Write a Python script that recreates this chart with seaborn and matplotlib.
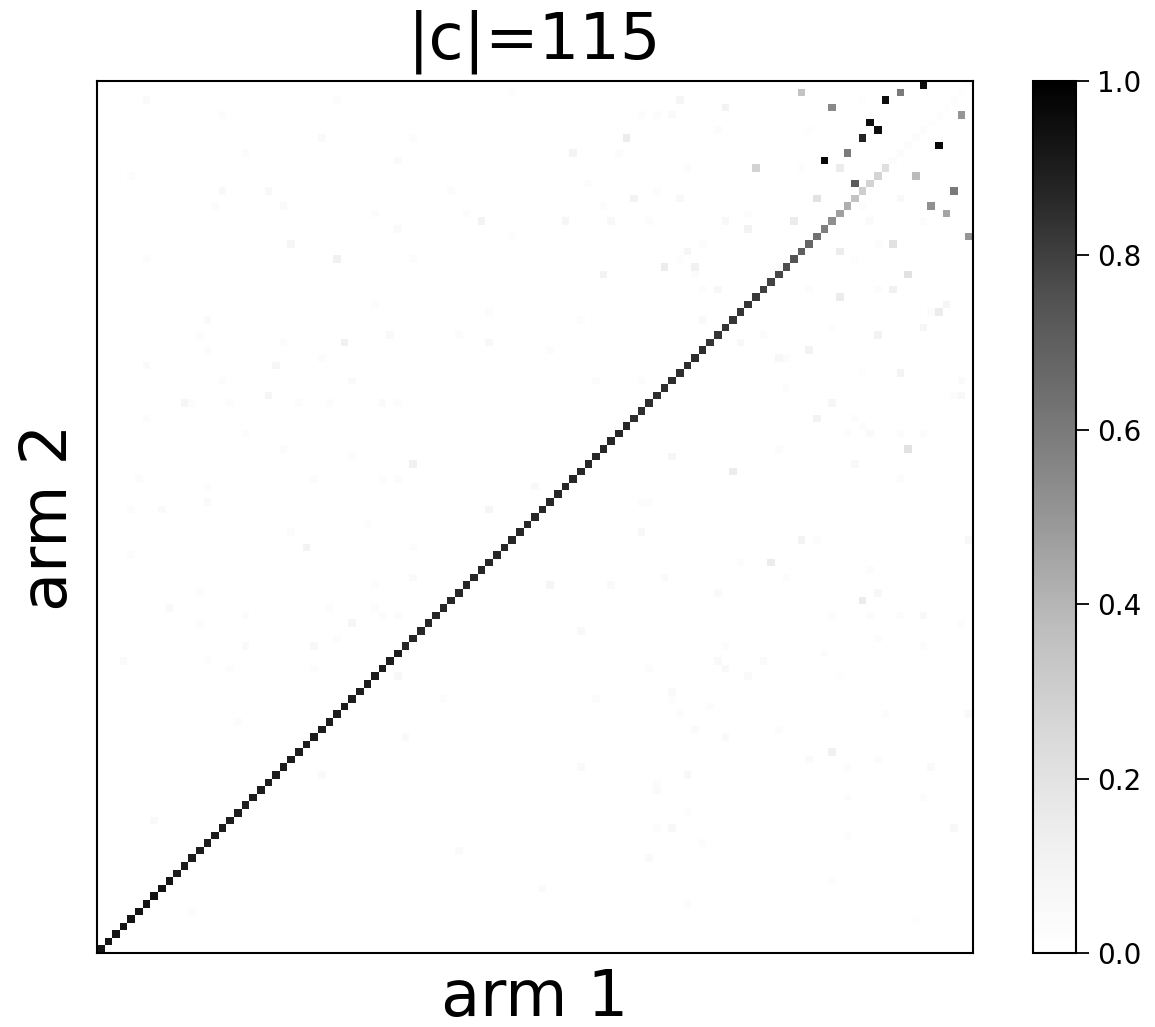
import numpy as np
import pandas as pd
import matplotlib
matplotlib.use("Agg")
import matplotlib.pyplot as plt
import seaborn as sns

N = 115
title_text = "|c|=115"
x_label = "arm 1"
y_label = "arm 2"
cbar_ticks = [0.0, 0.2, 0.4, 0.6, 0.8, 1.0]

# diagonal values (index 0 = bottom-left)
diag_vals = [
    0.93, 0.93, 0.93, 0.93, 0.93, 0.93, 0.93, 0.93, 0.93, 0.93,
    0.90, 0.90, 0.90, 0.90, 0.90, 0.90, 0.90, 0.90, 0.90, 0.90,
    0.90, 0.90, 0.90, 0.90, 0.90, 0.90, 0.90, 0.90, 0.90, 0.90,
    0.90, 0.90, 0.90, 0.90, 0.90, 0.90, 0.90, 0.90, 0.90, 0.90,
    0.87, 0.87, 0.87, 0.87, 0.87, 0.87, 0.87, 0.87, 0.87, 0.87,
    0.87, 0.87, 0.87, 0.87, 0.87, 0.87, 0.87, 0.87, 0.87, 0.87,
    0.87, 0.87, 0.87, 0.87, 0.87, 0.87, 0.87, 0.87, 0.87, 0.87,
    0.85, 0.85, 0.85, 0.85, 0.85, 0.85, 0.85, 0.85, 0.85, 0.85,
    0.83, 0.83, 0.83, 0.83, 0.83, 0.83, 0.82, 0.80, 0.79, 0.78,
    0.76, 0.74, 0.70, 0.67, 0.63, 0.58, 0.53, 0.47, 0.42, 0.35,
    0.30, 0.28, 0.27, 0.22, 0.03, 0.03, 0.03, 0.03, 0.03, 0.02,
    0.02, 0.02, 0.02, 0.02, 0.02,
]

# off-diagonal cells: row (arm 2, from bottom), column (arm 1, from left), value
off_rows = [
    113, 111, 112, 113, 114, 110, 109, 108, 107, 105, 104, 106, 103, 103, 102, 101, 100, 99, 98, 97,
    94, 96, 93, 95, 92, 96, 99, 112, 108, 103, 97, 93,
    98, 96, 96, 96, 93, 92, 91, 90, 90, 89, 90, 91, 89, 87, 87, 87, 87, 87, 86, 85, 84, 84, 83, 81,
    82, 81, 82, 80, 79, 78, 78, 76, 76, 75, 73, 73, 75, 74,
    72, 70, 70, 69, 68, 68, 68, 68, 66, 66, 65, 64, 63, 62, 59, 59, 55, 54, 54, 54, 51, 51, 49, 49,
    50, 47, 47, 46, 44, 44, 44, 44, 43, 41, 40, 40, 39, 38, 37, 38, 36, 37, 36,
    34, 33, 31, 32, 29, 28, 29, 31, 31, 26, 25, 24, 25, 24, 23, 22, 21, 20, 20, 18, 16, 16, 16, 15,
    14, 12, 9, 6, 4,
    112, 112, 110, 107, 107, 105, 104, 102, 100, 100, 98, 98, 97, 95, 93, 91, 91, 91, 85, 83, 81, 81,
    80, 80, 79, 78, 77, 77, 75, 75,
    113, 112, 111, 110, 110, 110, 108, 107, 105, 105, 103, 101, 100, 99, 100, 99, 98, 97, 96, 96,
    96, 96, 96, 94, 89, 84, 83, 81, 80, 79, 75,
    73, 72, 72, 72, 72, 72, 72, 72, 70, 68, 66, 65, 64, 62, 61, 59, 62, 62, 62, 58, 58, 55, 53, 56,
    52, 53, 49, 48, 47, 45, 45, 45, 44, 44, 44, 43, 43, 41, 40, 40, 38, 38, 37, 37, 36,
    17, 13, 8, 5, 23, 28, 33, 30, 24, 33, 48, 42, 48, 58, 61,
]
off_cols = [
    92, 96, 103, 105, 108, 113, 101, 102, 100, 98, 95, 110, 86, 97, 107, 99, 112, 94, 109, 111,
    114, 91, 104, 85, 97, 101, 105, 100, 93, 92, 85, 102,
    100, 82, 72, 108, 79, 77, 76, 74, 78, 78, 89, 99, 106, 79, 81, 93, 102, 104, 97, 111, 110, 109, 79, 87,
    96, 102, 108, 84, 93, 89, 90, 100, 105, 113, 113, 112, 71, 90,
    96, 94, 99, 100, 98, 101, 105, 108, 106, 89, 75, 99, 83, 105, 72, 71, 71, 92, 94, 114, 88, 84, 74, 90,
    101, 81, 102, 100, 96, 101, 105, 108, 113, 102, 82, 108, 95, 81, 82, 87, 85, 72, 97,
    75, 75, 76, 80, 78, 82, 89, 103, 114, 96, 93, 98, 102, 109, 77, 73, 73, 98, 108, 77, 75, 73, 112, 98,
    79, 72, 96, 77, 107,
    6, 31, 16, 29, 41, 19, 39, 4, 16, 22, 15, 24, 36, 39, 25, 31, 6, 41, 36, 14, 13, 38,
    24, 32, 14, 29, 6, 23, 16, 33,
    54, 76, 82, 71, 73, 75, 81, 69, 62, 68, 77, 64, 46, 70, 73, 76, 66, 48, 50, 61,
    67, 72, 82, 54, 66, 51, 63, 47, 51, 59, 65,
    22, 11, 12, 17, 26, 30, 37, 39, 6, 19, 24, 33, 41, 5, 14, 14, 28, 37, 39, 4, 8, 25, 27, 35,
    4, 41, 41, 36, 13, 9, 30, 36, 37, 39, 19, 13, 33, 31, 19, 28, 3, 14, 17, 28, 39,
    7, 47, 58, 12, 29, 40, 45, 18, 63, 65, 59, 63, 67, 51, 57,
]
off_vals = [
    0.35, 0.55, 0.95, 0.60, 0.95, 0.50, 0.95, 0.95, 0.88, 0.60, 0.97, 0.97, 0.28, 0.15, 0.38, 0.72, 0.60, 0.20, 0.52, 0.45,
    0.50, 0.15, 0.20, 0.10, 0.15, 0.04, 0.05, 0.02, 0.02, 0.02, 0.03, 0.03,
    0.03, 0.07, 0.03, 0.03, 0.03, 0.08, 0.03, 0.15, 0.12, 0.03, 0.03, 0.02, 0.20, 0.03, 0.06, 0.03, 0.03, 0.12, 0.15, 0.08, 0.15, 0.03, 0.05, 0.03,
    0.02, 0.10, 0.08, 0.06, 0.10, 0.07, 0.03, 0.02, 0.10, 0.04, 0.06, 0.03, 0.03, 0.03,
    0.08, 0.10, 0.03, 0.03, 0.03, 0.04, 0.03, 0.03, 0.20, 0.03, 0.08, 0.06, 0.15, 0.03, 0.03, 0.03, 0.06, 0.10, 0.03, 0.06, 0.15, 0.03, 0.04, 0.03,
    0.03, 0.04, 0.06, 0.15, 0.03, 0.03, 0.03, 0.05, 0.03, 0.03, 0.03, 0.03, 0.03, 0.05, 0.05, 0.04, 0.04, 0.03, 0.02,
    0.05, 0.03, 0.03, 0.03, 0.04, 0.04, 0.03, 0.03, 0.05, 0.12, 0.04, 0.03, 0.03, 0.04, 0.06, 0.03, 0.04, 0.03, 0.03, 0.03, 0.06, 0.03, 0.06, 0.03,
    0.03, 0.04, 0.02, 0.03, 0.02,
    0.04, 0.03, 0.03, 0.04, 0.03, 0.03, 0.04, 0.03, 0.05, 0.06, 0.03, 0.04, 0.03, 0.04, 0.08, 0.12, 0.03, 0.03, 0.03, 0.04, 0.03, 0.05,
    0.03, 0.12, 0.03, 0.03, 0.04, 0.07, 0.03, 0.04,
    0.03, 0.08, 0.10, 0.03, 0.03, 0.04, 0.03, 0.15, 0.10, 0.03, 0.03, 0.03, 0.03, 0.10, 0.03, 0.06, 0.03, 0.03, 0.10, 0.08,
    0.06, 0.03, 0.06, 0.03, 0.10, 0.03, 0.03, 0.03, 0.06, 0.03, 0.03,
    0.08, 0.08, 0.03, 0.03, 0.03, 0.03, 0.04, 0.03, 0.03, 0.03, 0.03, 0.03, 0.12, 0.03, 0.03, 0.04, 0.03, 0.03, 0.03, 0.03, 0.04, 0.03, 0.10, 0.03,
    0.03, 0.03, 0.04, 0.03, 0.03, 0.05, 0.03, 0.03, 0.03, 0.03, 0.03, 0.03, 0.08, 0.03, 0.04, 0.06, 0.04, 0.03, 0.03, 0.03, 0.06,
    0.05, 0.04, 0.04, 0.03, 0.04, 0.04, 0.03, 0.03, 0.04, 0.03, 0.08, 0.05, 0.04, 0.08, 0.05,
]

mat = np.zeros((N, N))
idx = np.arange(N)
mat[idx, idx] = diag_vals
mat[np.array(off_rows), np.array(off_cols)] = off_vals
df = pd.DataFrame(mat)

sns.set_style("white")
plt.rcParams["text.color"] = "black"
plt.rcParams["axes.labelcolor"] = "black"
fig = plt.figure(figsize=(11.55, 10.27), dpi=100)
ax = fig.add_axes([97 / 1155, 1 - 953 / 1027, 876 / 1155, 872 / 1027])
cax = fig.add_axes([1033 / 1155, 1 - 953 / 1027, 43 / 1155, 872 / 1027])

sns.heatmap(df, ax=ax, cbar_ax=cax, cmap="Greys", vmin=0, vmax=1,
            xticklabels=False, yticklabels=False, square=False,
            cbar_kws={"ticks": cbar_ticks})
ax.invert_yaxis()
ax.set_xlim(0, N)
ax.set_ylim(0, N)
for s in ax.spines.values():
    s.set_visible(True)
    s.set_color("black")
    s.set_linewidth(1.5)

ax.set_title(title_text, fontsize=46, pad=16, color="black")
ax.set_xlabel(x_label, fontsize=46, labelpad=10, color="black")
ax.set_ylabel(y_label, fontsize=46, labelpad=12, color="black")

cbar = ax.collections[0].colorbar
cbar.outline.set_visible(True)
cbar.outline.set_edgecolor("black")
cbar.outline.set_linewidth(1.5)
cax.tick_params(labelsize=20, length=9, width=1.3, pad=6, color="black", labelcolor="black")
cax.set_yticklabels([f"{t:.1f}" for t in cbar_ticks])

fig.savefig("out.png", dpi=100)
